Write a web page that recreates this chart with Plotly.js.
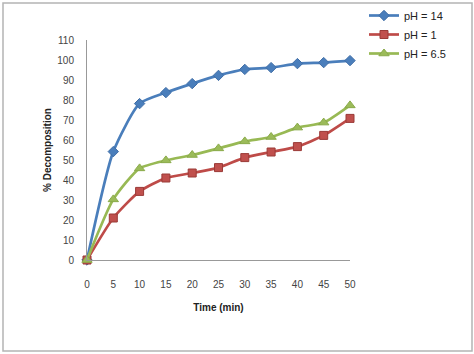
<!DOCTYPE html>
<html>
<head>
<meta charset="utf-8">
<script src="https://cdn.plot.ly/plotly-3.0.1.min.js"></script>
<style>
html,body{margin:0;padding:0;background:#fff;}
#chart{width:474px;height:354px;}
</style>
</head>
<body>
<div id="chart"></div>
<script>
var timeMin = [0, 5, 10, 15, 20, 25, 30, 35, 40, 45, 50];
var ph14 = [0, 54.2, 78.2, 83.7, 88.2, 92.3, 95.3, 96.2, 98.2, 98.7, 99.7];
var ph1 = [0, 21, 34.3, 41, 43.5, 46.2, 51.2, 54, 56.7, 62.3, 70.8];
var ph65 = [0, 30.3, 45.8, 49.8, 52.5, 55.8, 59.3, 61.5, 66.2, 68.7, 77.3];
var seriesNames = ['pH = 14', 'pH = 1', 'pH = 6.5'];
var xTicks = [0, 5, 10, 15, 20, 25, 30, 35, 40, 45, 50];
var yTicks = [0, 10, 20, 30, 40, 50, 60, 70, 80, 90, 100, 110];

var L = 87, R = 350, T = 40, B = 260;
function px(x){ return (x - L) / (R - L); }
function py(y){ return (B - y) / (B - T); }

var traces = [
  {x: timeMin, y: ph14, name: seriesNames[0], mode: 'lines+markers', cliponaxis: false,
   line: {color: '#4A7EBB', width: 2.7, shape: 'spline', smoothing: 0.6},
   marker: {symbol: 'diamond', size: 8, color: '#4A7EBB', line: {color: '#3F6DA6', width: 1}}},
  {x: timeMin, y: ph1, name: seriesNames[1], mode: 'lines+markers', cliponaxis: false,
   line: {color: '#BE4B48', width: 2.7, shape: 'spline', smoothing: 0.6},
   marker: {symbol: 'square', size: 8, color: '#C0504D', line: {color: '#9A3A37', width: 1}}},
  {x: timeMin, y: ph65, name: seriesNames[2], mode: 'lines+markers', cliponaxis: false,
   line: {color: '#98B954', width: 2.7, shape: 'spline', smoothing: 0.6},
   marker: {symbol: 'triangle-up', size: 9, color: '#9BBB59', line: {color: '#8AAA4A', width: 1}}}
];

var layout = {
  width: 474, height: 354,
  margin: {l: L, r: 474 - R, t: T, b: 354 - B, pad: 0, autoexpand: false},
  paper_bgcolor: '#ffffff', plot_bgcolor: '#ffffff',
  font: {family: 'Liberation Sans, Arial, sans-serif', size: 10, color: '#333'},
  showlegend: true,
  legend: {x: px(364), xanchor: 'left', y: py(1), yanchor: 'top',
           font: {size: 11, color: '#222'}, itemwidth: 30, tracegroupgap: 0,
           bgcolor: 'rgba(0,0,0,0)'},
  xaxis: {range: [0, 50], tickvals: xTicks, ticktext: xTicks.map(String),
          showgrid: false, zeroline: false, showline: true, linecolor: '#999', linewidth: 1,
          ticks: '', ticklabelstandoff: 15, tickfont: {size: 10, color: '#444'},
          title: {text: '<b>Time (min)</b>', font: {size: 10, color: '#222'}, standoff: 14},
          fixedrange: true},
  yaxis: {range: [0, 110], tickvals: yTicks, ticktext: yTicks.map(String),
          showgrid: false, zeroline: false, showline: true, linecolor: '#999', linewidth: 1,
          ticks: '', ticklabelstandoff: 10, tickfont: {size: 10, color: '#444'},
          title: {text: '<b>% Decomposition</b>', font: {size: 10, color: '#222'}, standoff: 3},
          fixedrange: true},
  shapes: [
    {type: 'rect', xref: 'paper', yref: 'paper', x0: px(3), x1: px(472), y0: py(351), y1: py(3),
     line: {color: '#b4b4b4', width: 1.5}, layer: 'below'}
  ]
};

Plotly.newPlot('chart', traces, layout, {displayModeBar: false, staticPlot: true});
</script>
</body>
</html>
